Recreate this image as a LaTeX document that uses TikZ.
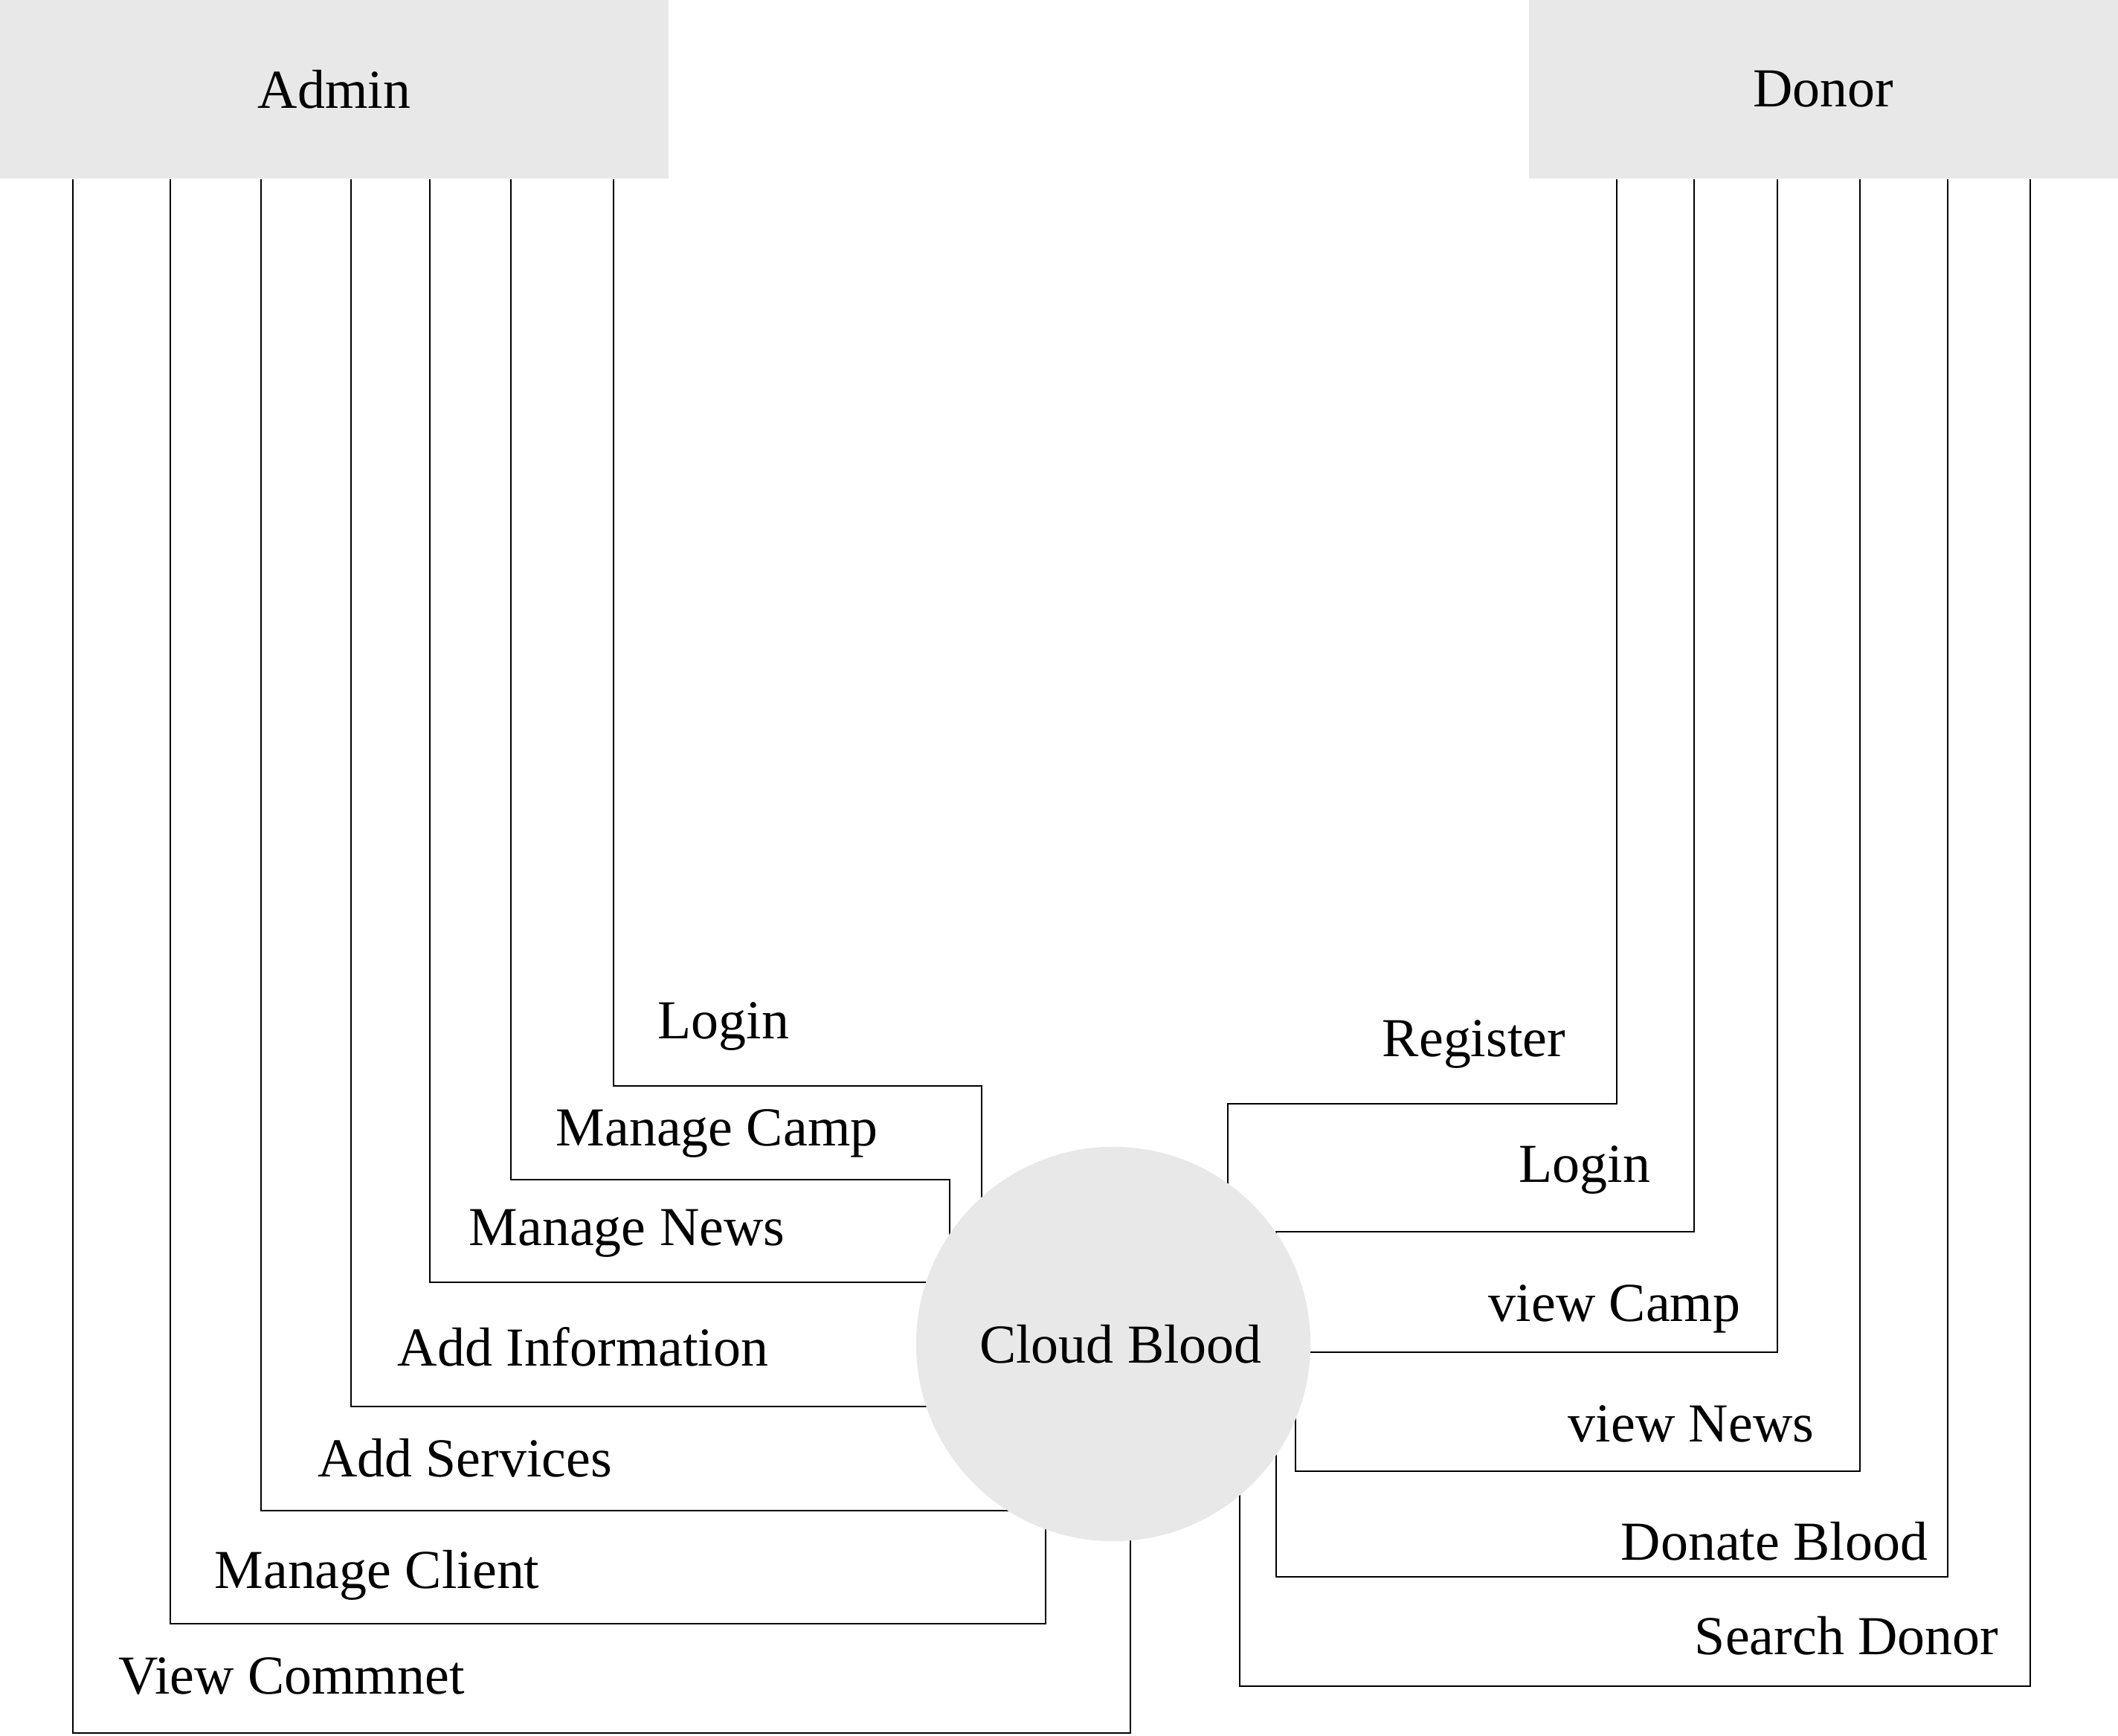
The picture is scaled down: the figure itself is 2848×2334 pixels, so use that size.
\documentclass[tikz,border=0pt]{standalone}
\usepackage{fontspec}
\setmainfont{Liberation Serif}
\usetikzlibrary{backgrounds}
\definecolor{shade}{HTML}{E8E8E8}
\begin{document}
\begin{tikzpicture}[x=0.01cm,y=-0.01cm,
  lbl/.style={font=\fontsize{21}{25}\selectfont, inner sep=0pt, yshift=-2pt},
  actor/.style={fill=shade, draw=none, minimum height=2.4cm, inner sep=0pt, font=\fontsize{21}{25}\selectfont},
  wire/.style={draw=black, line width=0.5pt}]
\useasboundingbox (0,0) rectangle (2848,2334);
\node[actor, minimum width=8.99cm] (admin) at (449.5,120) {Admin};
\node[actor, minimum width=7.92cm] (donor) at (2452,120) {Donor};
\node[circle, fill=shade, minimum size=5.3cm, inner sep=0pt, font=\fontsize{21}{25}\selectfont] (cb) at (1497,1807) {\hspace*{5.6pt}Cloud Blood};
\begin{scope}[on background layer]
% admin side
\draw[wire] (825,0 |- admin.south) -- (825,1460) -- (1320,1460) -- (1320,0 |- cb.center);
\draw[wire] (687,0 |- admin.south) -- (687,1586) -- (1277,1586) -- (1277,0 |- cb.center);
\draw[wire] (578,0 |- admin.south) -- (578,1724) -- (578,1724 -| cb.center);
\draw[wire] (472,0 |- admin.south) -- (472,1891) -- (472,1891 -| cb.center);
\draw[wire] (351,0 |- admin.south) -- (351,2031) -- (351,2031 -| cb.center);
\draw[wire] (229,0 |- admin.south) -- (229,2183) -- (1406,2183) -- (1406,0 |- cb.center);
\draw[wire] (98,0 |- admin.south) -- (98,2330) -- (1520,2330) -- (1520,0 |- cb.center);
% donor side
\draw[wire] (2174,0 |- donor.south) -- (2174,1484) -- (1651,1484) -- (1651,0 |- cb.center);
\draw[wire] (2278,0 |- donor.south) -- (2278,1656) -- (1716,1656) -- (1716,0 |- cb.center);
\draw[wire] (2390,0 |- donor.south) -- (2390,1818) -- (2390,1818 -| cb.center);
\draw[wire] (2501,0 |- donor.south) -- (2501,1978) -- (1742,1978) -- (1742,0 |- cb.center);
\draw[wire] (2619,0 |- donor.south) -- (2619,2120) -- (1716,2120) -- (1716,0 |- cb.center);
\draw[wire] (2730,0 |- donor.south) -- (2730,2267) -- (1667,2267) -- (1667,0 |- cb.center);
\end{scope}
% labels admin side
\node[lbl] (t1) at (973,1373) {Login};
\node[lbl] (t2) at (964,1517) {Manage Camp};
\node[lbl] (t3) at (843,1651) {Manage News};
\node[lbl] (t4) at (784,1804) {Add Information};
\node[lbl] (t5) at (625,1953) {Add Services};
\node[lbl] (t6) at (507,2111) {Manage Client};
\node[lbl] (t7) at (392,2247) {View Commnet};
% labels donor side
\node[lbl] (r1) at (1982,1397) {Register};
\node[lbl] (r2) at (2131,1566) {Login};
\node[lbl] (r3) at (2171,1753) {view Camp};
\node[lbl] (r4) at (2274,1907) {view News};
\node[lbl] (r5) at (2386,2065) {Donate Blood};
\node[lbl] (r6) at (2483,2192) {Search Donor};
\end{tikzpicture}
\end{document}
